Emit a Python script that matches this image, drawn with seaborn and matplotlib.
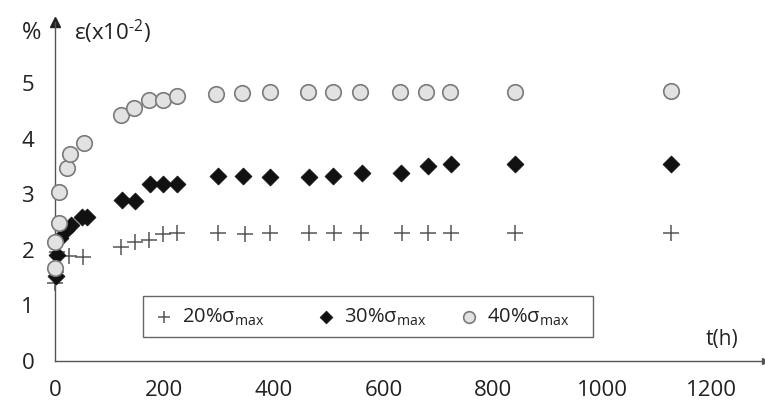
import matplotlib
matplotlib.use("Agg")
import matplotlib.pyplot as plt
from matplotlib.patches import Rectangle
from matplotlib.legend import Legend
import seaborn as sns
import pandas as pd

# ---- data ----
t20 = [0, 1, 3, 25, 52, 120, 146, 171, 198, 222, 298, 347, 393, 464, 510, 559, 634, 681, 723, 840, 1126]
e20 = [1.40, 1.60, 1.97, 1.89, 1.88, 2.06, 2.15, 2.18, 2.28, 2.30, 2.30, 2.28, 2.30, 2.30, 2.30, 2.30, 2.30, 2.30, 2.30, 2.30, 2.31]

t30 = [1, 3, 9, 21, 30, 49, 58, 122, 146, 173, 198, 222, 298, 343, 393, 464, 508, 561, 632, 681, 723, 841, 1125]
e30 = [1.53, 1.91, 2.22, 2.36, 2.45, 2.60, 2.60, 2.90, 2.88, 3.18, 3.18, 3.18, 3.33, 3.33, 3.31, 3.31, 3.33, 3.38, 3.39, 3.51, 3.54, 3.54, 3.54]

t40 = [0, 0, 8, 7, 22, 27, 53, 120, 145, 172, 198, 222, 295, 342, 392, 462, 507, 557, 630, 678, 722, 840, 1125]
e40 = [1.68, 2.15, 2.49, 3.04, 3.48, 3.72, 3.92, 4.43, 4.56, 4.70, 4.69, 4.77, 4.81, 4.83, 4.84, 4.84, 4.84, 4.84, 4.84, 4.84, 4.84, 4.84, 4.86]

labels = ["20%σ$_\\mathregular{max}$", "30%σ$_\\mathregular{max}$", "40%σ$_\\mathregular{max}$"]
xticks = [0, 200, 400, 600, 800, 1000, 1200]
yticks = [0, 1, 2, 3, 4, 5]

sns.set_style("white")
FONT = "Open Sans"
plt.rcParams["font.family"] = [FONT, "DejaVu Sans"]
plt.rcParams["mathtext.fontset"] = "custom"
plt.rcParams["mathtext.rm"] = FONT
TXT = "#222222"

W, H = 765, 405
fig = plt.figure(figsize=(W / 100, H / 100), dpi=100)
x0, y0, x1, y1 = 55, 361, 765, 22
ax = fig.add_axes([x0 / W, 1 - y0 / H, (x1 - x0) / W, (y0 - y1) / H])

df20 = pd.DataFrame({"t": t20, "e": e20})
df30 = pd.DataFrame({"t": t30, "e": e30})
df40 = pd.DataFrame({"t": t40, "e": e40})

sns.scatterplot(data=df20, x="t", y="e", ax=ax, marker="+", s=130, color="#555555",
                linewidth=1.1, label=labels[0], clip_on=False, zorder=3)
sns.scatterplot(data=df30, x="t", y="e", ax=ax, marker="D", s=75, color="#111111",
                edgecolor="#111111", linewidth=0.5, label=labels[1], clip_on=False, zorder=4)
sns.scatterplot(data=df40, x="t", y="e", ax=ax, marker="o", s=125, color="#e2e2e2",
                edgecolor="#7a7a7a", linewidth=1.2, label=labels[2], clip_on=False, zorder=5)

ax.set_xlim(0, 1297)
ax.set_ylim(0, 6.1)
ax.set_xticks(xticks)
ax.set_yticks(yticks)
ax.set_xlabel("")
ax.set_ylabel("")
for s in ["top", "right"]:
    ax.spines[s].set_visible(False)
for s in ["left", "bottom"]:
    ax.spines[s].set_color("#555555")
    ax.spines[s].set_linewidth(1.0)
ax.tick_params(axis="both", direction="inout", length=14, width=1.0, color="#555555",
               labelsize=16, labelcolor=TXT)
ax.tick_params(axis="x", pad=7)
ax.tick_params(axis="y", pad=8)

# arrows at axis ends
ax.plot([0], [1], marker="^", transform=ax.transAxes, clip_on=False, color="#222222", markersize=7)
ax.plot([1], [0], marker=">", transform=ax.transAxes, clip_on=False, color="#555555", markersize=5)

def ft(x, y, s, **kw):
    fig.text(x / W, 1 - y / H, s, color=TXT, ha="center", va="center", **kw)

ft(32, 33, "%", fontsize=17)
ft(112, 32, "ε(x10$^\\mathregular{\u20102}$)", fontsize=16)
ft(722, 340, "t(h)", fontsize=15)

# legend box (drawn as a rectangle) and legend entries placed individually
def axx(px):
    return (px - x0) / (x1 - x0)

def axy(py):
    return (y0 - py) / (y0 - y1)

ax.add_patch(Rectangle((axx(143), axy(337)), axx(593) - axx(143), axy(296) - axy(337),
                       transform=ax.transAxes, fill=True, facecolor="white",
                       edgecolor="#666666", linewidth=1.0, clip_on=False, zorder=2))
handles, labs = ax.get_legend_handles_labels()
if ax.get_legend() is not None:
    ax.get_legend().remove()
starts = [152, 314, 457]
for h, l, sx in zip(handles, labs, starts):
    lg = Legend(ax, [h], [l], loc="center left", bbox_to_anchor=(axx(sx), axy(317)),
                frameon=False, fontsize=14.5, markerscale=0.75,
                handletextpad=0.3, borderaxespad=0, borderpad=0, handlelength=1.2)
    for txt in lg.get_texts():
        txt.set_color(TXT)
    ax.add_artist(lg)

fig.savefig("out.png", dpi=100)
